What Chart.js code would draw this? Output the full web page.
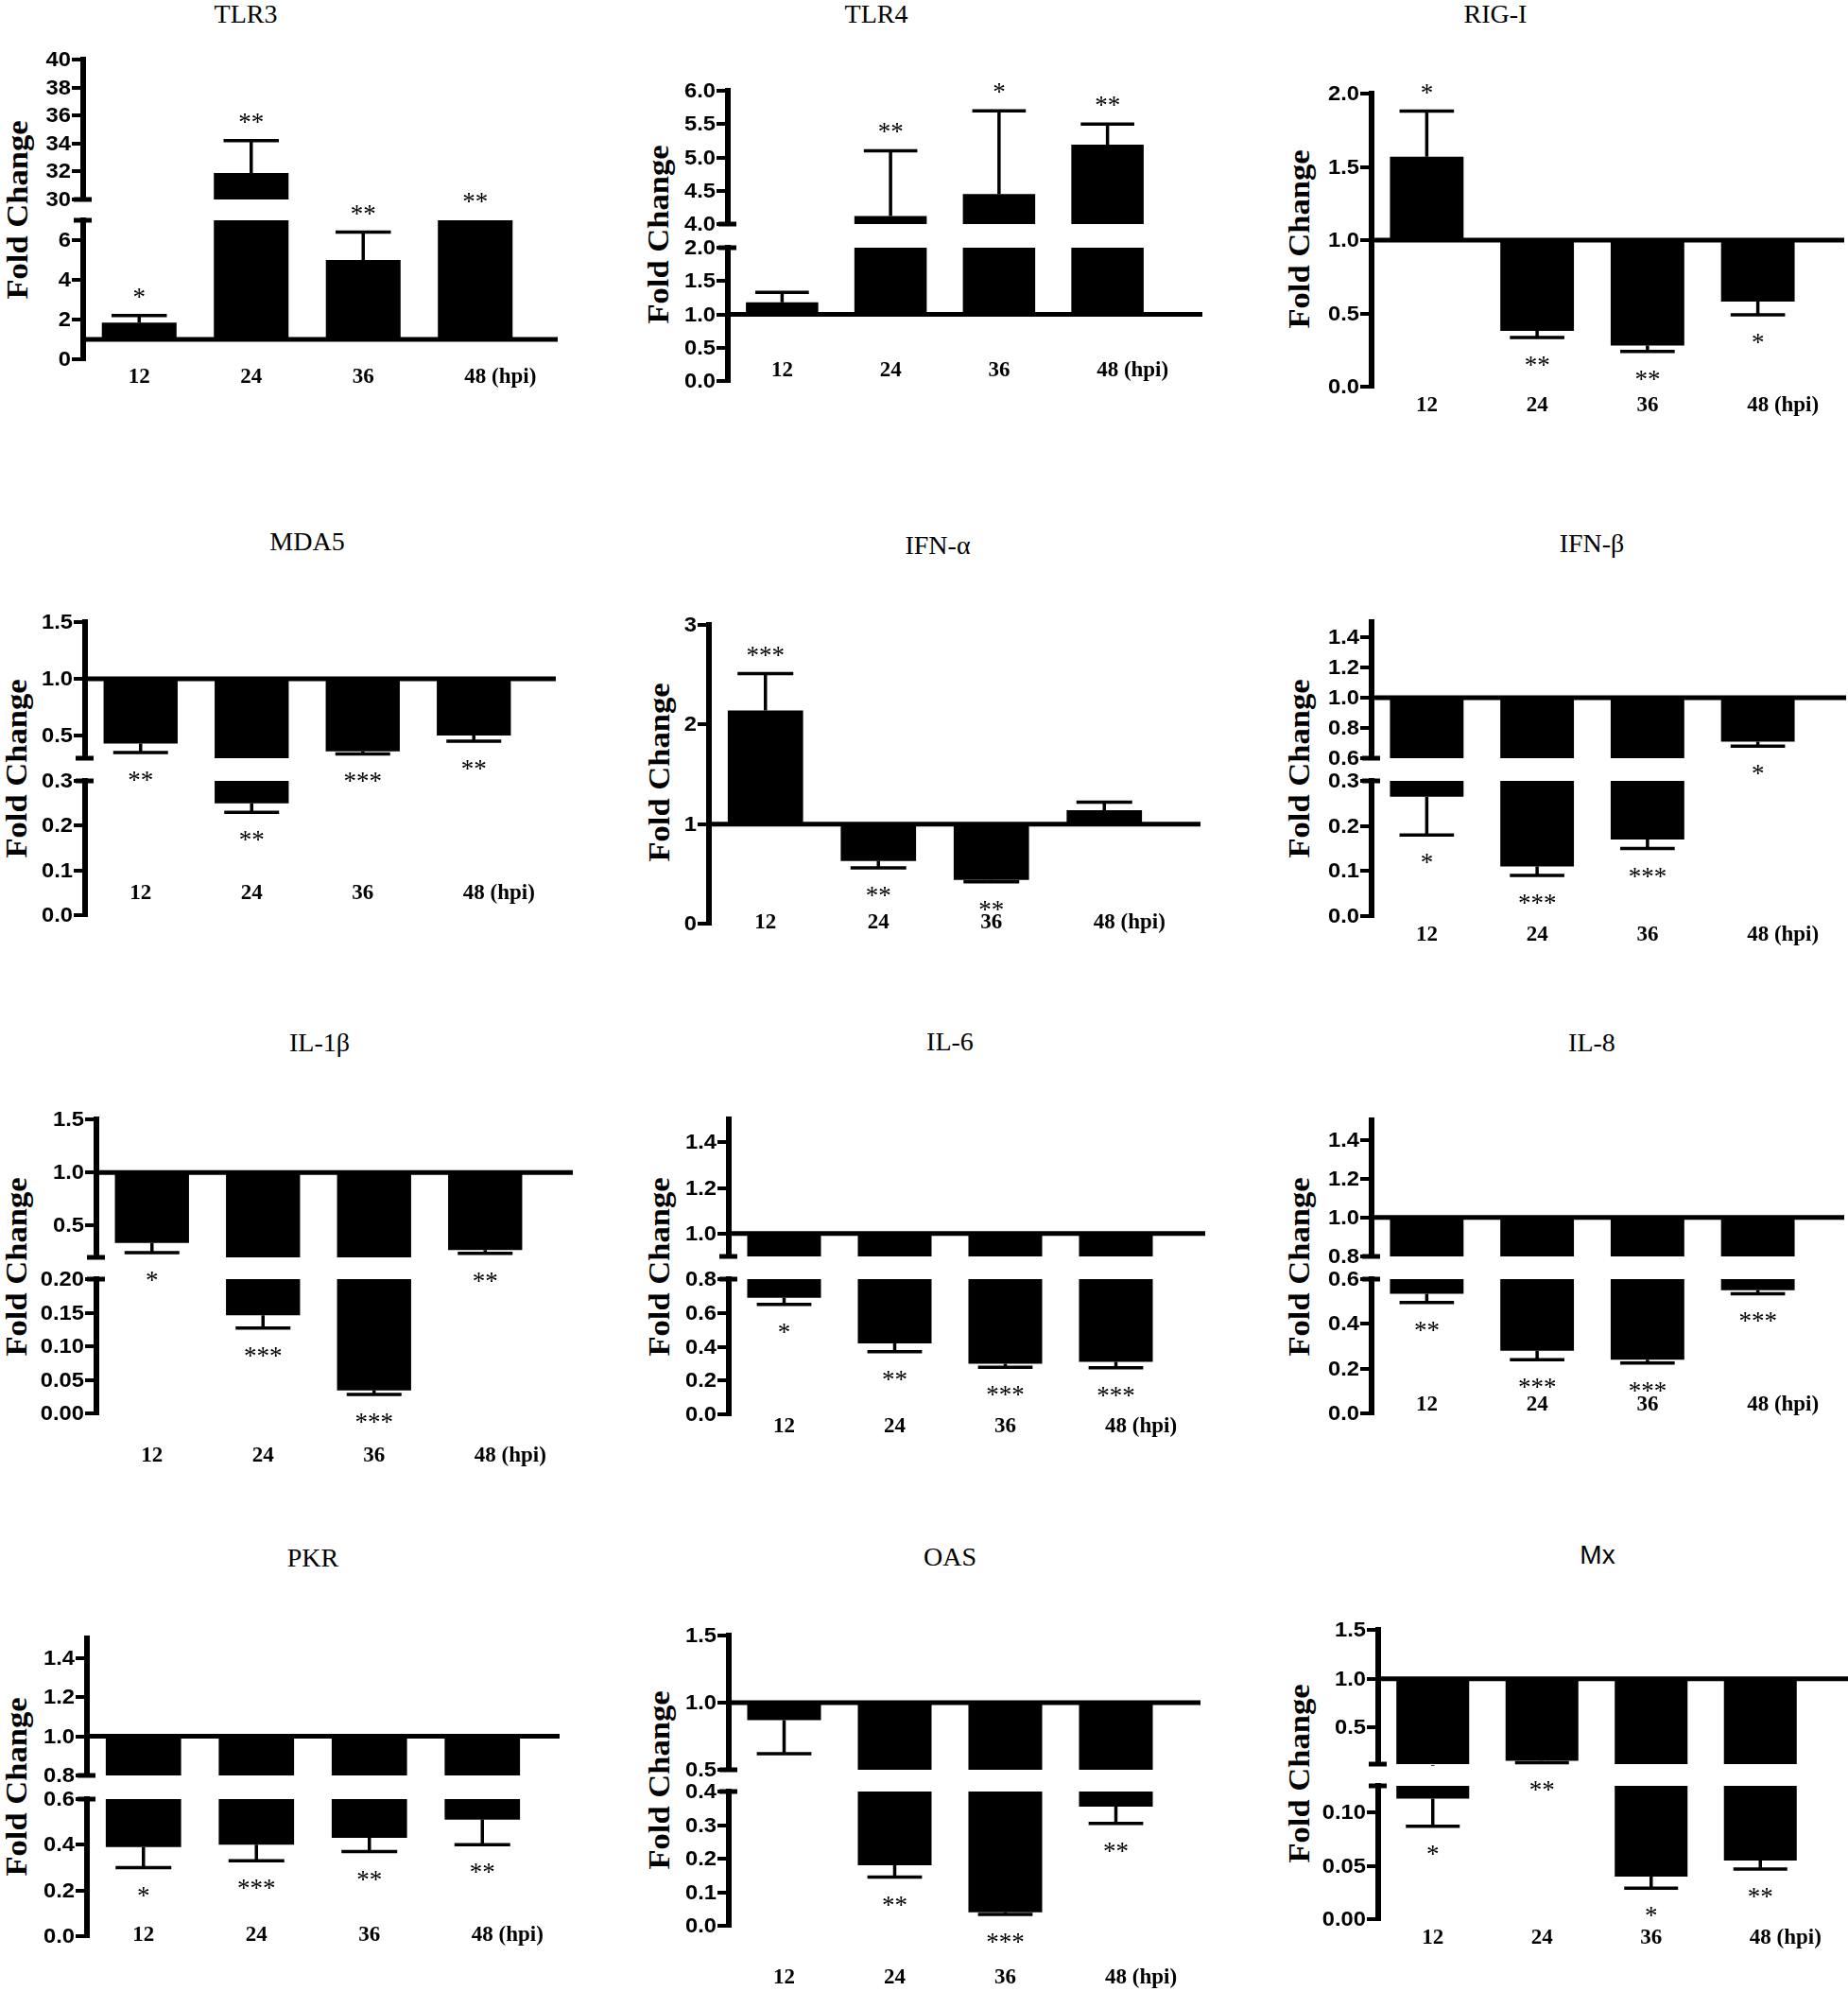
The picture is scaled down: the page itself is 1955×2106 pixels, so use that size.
<!DOCTYPE html>
<html>
<head>
<meta charset="utf-8">
<script src="https://cdn.jsdelivr.net/npm/chart.js@4/dist/chart.umd.min.js"></script>
<style>
  body { margin: 0; background: #fff; width: 1955px; height: 2106px; position: relative; overflow: hidden; }
  canvas { position: absolute; }
  .ttl { position: absolute; font: 28px 'Liberation Serif', serif; line-height: 1; transform: translate(-50%, -50%); white-space: nowrap; }
  .ttl.sans { font-family: 'Liberation Sans', Arial, sans-serif; }
  .ylab { position: absolute; font: bold 32px 'Liberation Serif', serif; line-height: 1; transform: translate(-50%, -50%) rotate(-90deg) scaleX(1.08); white-space: nowrap; }
</style>
</head>
<body>
<script>
'use strict';

const hours = ['12', '24', '36', '48 (hpi)'];

// TLR3 (48 h bar sits inside the axis break)
const tlr3Mean = [1.85, 31.9, 5.0, 15];
const tlr3Sem = [0.35, 2.3, 1.4, 0];
const tlr3Stars = ['*', '**', '**', '**'];
const tlr3TicksTop = ['30', '32', '34', '36', '38', '40'];
const tlr3TicksBottom = ['0', '2', '4', '6'];

// TLR4
const tlr4Mean = [1.18, 4.12, 4.45, 5.19];
const tlr4Sem = [0.15, 0.98, 1.25, 0.31];
const tlr4Stars = ['', '**', '*', '**'];
const tlr4TicksTop = ['4.0', '4.5', '5.0', '5.5', '6.0'];
const tlr4TicksBottom = ['0.0', '0.5', '1.0', '1.5', '2.0'];

// RIG-I
const rigMean = [1.57, 0.38, 0.28, 0.58];
const rigSem = [0.31, 0.045, 0.04, 0.09];
const rigStars = ['*', '**', '**', '*'];
const rigTicks = ['0.0', '0.5', '1.0', '1.5', '2.0'];

// MDA5
const mda5Mean = [0.43, 0.25, 0.36, 0.50];
const mda5Sem = [0.08, 0.02, 0.022, 0.05];
const mda5Stars = ['**', '**', '***', '**'];
const mda5TicksTop = ['0.5', '1.0', '1.5'];
const mda5TicksBottom = ['0.0', '0.1', '0.2', '0.3'];

// IFN-alpha
const ifnaMean = [2.14, 0.63, 0.44, 1.14];
const ifnaSem = [0.37, 0.07, 0.02, 0.08];
const ifnaStars = ['***', '**', '**', ''];
const ifnaTicks = ['0', '1', '2', '3'];

// IFN-beta
const ifnbMean = [0.265, 0.11, 0.17, 0.71];
const ifnbSem = [0.085, 0.02, 0.02, 0.03];
const ifnbStars = ['*', '***', '***', '*'];
const ifnbTicksTop = ['0.6', '0.8', '1.0', '1.2', '1.4'];
const ifnbTicksBottom = ['0.0', '0.1', '0.2', '0.3'];

// IL-1beta
const il1Mean = [0.335, 0.146, 0.034, 0.27];
const il1Sem = [0.09, 0.019, 0.006, 0.033];
const il1Stars = ['*', '***', '***', '**'];
const il1TicksTop = ['0.5', '1.0', '1.5'];
const il1TicksBottom = ['0.00', '0.05', '0.10', '0.15', '0.20'];

// IL-6
const il6Mean = [0.69, 0.42, 0.30, 0.31];
const il6Sem = [0.04, 0.05, 0.022, 0.035];
const il6Stars = ['*', '**', '***', '***'];
const il6TicksTop = ['1.0', '1.2', '1.4'];
const il6TicksBottom = ['0.0', '0.2', '0.4', '0.6', '0.8'];

// IL-8
const il8Mean = [0.535, 0.28, 0.24, 0.55];
const il8Sem = [0.04, 0.04, 0.015, 0.015];
const il8Stars = ['**', '***', '***', '***'];
const il8TicksTop = ['0.8', '1.0', '1.2', '1.4'];
const il8TicksBottom = ['0.0', '0.2', '0.4', '0.6'];

// PKR
const pkrMean = [0.39, 0.40, 0.43, 0.51];
const pkrSem = [0.09, 0.07, 0.06, 0.11];
const pkrStars = ['*', '***', '**', '**'];
const pkrTicksTop = ['0.8', '1.0', '1.2', '1.4'];
const pkrTicksBottom = ['0.0', '0.2', '0.4', '0.6'];

// OAS
const oasMean = [0.87, 0.18, 0.04, 0.355];
const oasSem = [0.25, 0.035, 0.006, 0.05];
const oasStars = ['', '**', '***', '**'];
const oasTicksTop = ['0.5', '1.0', '1.5'];
const oasTicksBottom = ['0.0', '0.1', '0.2', '0.3', '0.4'];

// Mx
const mxMean = [0.113, 0.16, 0.04, 0.055];
const mxSem = [0.026, 0.02, 0.011, 0.008];
const mxStars = ['*', '**', '*', '**'];
const mxTicksTop = ['0.5', '1.0', '1.5'];
const mxTicksBottom = ['0.00', '0.05', '0.10'];

// panel layout (page pixels) + axis segments for the broken axes
let panels = [
  { title: 'TLR3', mean: tlr3Mean, sem: tlr3Sem, stars: tlr3Stars, axisX: 88, areaRight: 562, lineRight: 590, labelDy: 17,
    titleAt: [260, 15], yLabelAt: [18, 222],
    segs: [{ min: 30, max: 40, ticks: tlr3TicksTop, top: 63, bottom: 211 }, { min: 0, max: 7, ticks: tlr3TicksBottom, top: 233, bottom: 380 }] },
  { title: 'TLR4', mean: tlr4Mean, sem: tlr4Sem, stars: tlr4Stars, axisX: 770, areaRight: 1229, lineRight: 1272, labelDy: -13,
    titleAt: [927, 15], yLabelAt: [696, 248],
    segs: [{ min: 4, max: 6, ticks: tlr4TicksTop, top: 96, bottom: 237 }, { min: 0, max: 2, ticks: tlr4TicksBottom, top: 262, bottom: 403 }] },
  { title: 'RIG-I', mean: rigMean, sem: rigSem, stars: rigStars, axisX: 1451, areaRight: 1918, lineRight: 1951, labelDy: 18,
    titleAt: [1582, 15], yLabelAt: [1374, 253],
    segs: [{ min: 0, max: 2, ticks: rigTicks, top: 99, bottom: 409 }] },
  { title: 'MDA5', mean: mda5Mean, sem: mda5Sem, stars: mda5Stars, axisX: 90, areaRight: 560, lineRight: 588, labelDy: -25,
    titleAt: [325, 573], yLabelAt: [17, 813],
    segs: [{ min: 0.3, max: 1.5, ticks: mda5TicksTop, top: 658, bottom: 802 }, { min: 0, max: 0.3, ticks: mda5TicksBottom, top: 826, bottom: 968 }] },
  { title: 'IFN-α', mean: ifnaMean, sem: ifnaSem, stars: ifnaStars, axisX: 750, areaRight: 1228, lineRight: 1270, labelDy: -3,
    titleAt: [992, 577], yLabelAt: [697, 817],
    segs: [{ min: 0, max: 3, ticks: ifnaTicks, top: 661, bottom: 977 }] },
  { title: 'IFN-β', mean: ifnbMean, sem: ifnbSem, stars: ifnbStars, axisX: 1451, areaRight: 1918, lineRight: 1953, labelDy: 18,
    titleAt: [1684, 575], yLabelAt: [1374, 813],
    segs: [{ min: 0.6, max: 1.5, ticks: ifnbTicksTop, top: 658, bottom: 802 }, { min: 0, max: 0.3, ticks: ifnbTicksBottom, top: 826, bottom: 969 }] },
  { title: 'IL-1β', mean: il1Mean, sem: il1Sem, stars: il1Stars, axisX: 102, areaRight: 572, lineRight: 606, labelDy: 43,
    titleAt: [338, 1103], yLabelAt: [17, 1340],
    segs: [{ min: 0.2, max: 1.5, ticks: il1TicksTop, top: 1184, bottom: 1330 }, { min: 0, max: 0.2, ticks: il1TicksBottom, top: 1353, bottom: 1495 }] },
  { title: 'IL-6', mean: il6Mean, sem: il6Sem, stars: il6Stars, axisX: 771, areaRight: 1239, lineRight: 1275, labelDy: 11,
    titleAt: [1005, 1102], yLabelAt: [697, 1340],
    segs: [{ min: 0.9, max: 1.5, ticks: il6TicksTop, top: 1184, bottom: 1329 }, { min: 0, max: 0.8, ticks: il6TicksBottom, top: 1353, bottom: 1496 }] },
  { title: 'IL-8', mean: il8Mean, sem: il8Sem, stars: il8Stars, axisX: 1451, areaRight: 1918, lineRight: 1951, labelDy: -11,
    titleAt: [1684, 1103], yLabelAt: [1374, 1340],
    segs: [{ min: 0.8, max: 1.5, ticks: il8TicksTop, top: 1185, bottom: 1329 }, { min: 0, max: 0.6, ticks: il8TicksBottom, top: 1353, bottom: 1495 }] },
  { title: 'PKR', mean: pkrMean, sem: pkrSem, stars: pkrStars, axisX: 92, areaRight: 570, lineRight: 592, labelDy: -3,
    titleAt: [331, 1648], yLabelAt: [17, 1890],
    segs: [{ min: 0.8, max: 1.5, ticks: pkrTicksTop, top: 1733, bottom: 1878 }, { min: 0, max: 0.6, ticks: pkrTicksBottom, top: 1903, bottom: 2048 }] },
  { title: 'OAS', mean: oasMean, sem: oasSem, stars: oasStars, axisX: 771, areaRight: 1239, lineRight: 1270, labelDy: 53,
    titleAt: [1005, 1647], yLabelAt: [697, 1883],
    segs: [{ min: 0.5, max: 1.5, ticks: oasTicksTop, top: 1730, bottom: 1872 }, { min: 0, max: 0.4, ticks: oasTicksBottom, top: 1895, bottom: 2037 }] },
  { title: 'Mx', sans: true, mean: mxMean, sem: mxSem, stars: mxStars, axisX: 1458, areaRight: 1920, lineRight: 1955, labelDy: 18,
    titleAt: [1690, 1645], yLabelAt: [1374, 1876],
    segs: [{ min: 0.125, max: 1.5, ticks: mxTicksTop, top: 1724, bottom: 1866 }, { min: 0, max: 0.125, ticks: mxTicksBottom, top: 1889, bottom: 2030 }] }
];

const AXIS_W = 75;
const PAD_T = 45;
const PAD_B = 75;
const segInfo = new WeakMap();

// which axis segment carries the significance stars of each bar
function placeStars(p) {
  p.starSeg = [];
  p.starVal = [];
  p.mean.forEach((m, i) => {
    const up = m >= 1;
    let v = up ? m + p.sem[i] : m - p.sem[i];
    let k = p.segs.findIndex(s => v >= s.min && v <= s.max);
    if (k < 0) {
      p.segs.forEach((s, j) => {
        if (up && s.min < v && (k < 0 || s.min > p.segs[k].min)) k = j;
        if (!up && s.max > v && (k < 0 || s.max < p.segs[k].max)) k = j;
      });
      v = up ? Math.min(v, p.segs[k].max) : Math.max(v, p.segs[k].min);
    }
    p.starSeg.push(k);
    p.starVal.push(v);
  });
}

function stretchedText(ctx, text, x, y, sx) {
  ctx.save();
  ctx.translate(x, y);
  ctx.scale(sx, 1);
  ctx.fillText(text, 0, 0);
  ctx.restore();
}

const marksPlugin = {
  id: 'marks',
  afterDatasetsDraw(chart) {
    const info = segInfo.get(chart.canvas);
    if (!info) return;
    const p = info.p, k = info.k, seg = p.segs[k];
    const ctx = chart.ctx;
    const a = chart.chartArea;
    const xs = chart.scales.x, ys = chart.scales.y;
    const bw = chart.getDatasetMeta(0).data[0].width;

    // error bars
    ctx.save();
    ctx.beginPath();
    ctx.rect(a.left, a.top - 2, a.right - a.left, a.bottom - a.top + 4);
    ctx.clip();
    ctx.strokeStyle = '#000';
    ctx.lineWidth = 3.5;
    p.mean.forEach((m, i) => {
      if (!p.sem[i]) return;
      const cx = xs.getPixelForValue(i);
      const end = m >= 1 ? m + p.sem[i] : m - p.sem[i];
      const y0 = ys.getPixelForValue(m);
      const y1 = ys.getPixelForValue(end);
      ctx.beginPath();
      ctx.moveTo(cx, y0);
      ctx.lineTo(cx, y1);
      ctx.moveTo(cx - bw * 0.37, y1);
      ctx.lineTo(cx + bw * 0.37, y1);
      ctx.stroke();
    });
    ctx.restore();

    ctx.save();
    ctx.strokeStyle = '#000';
    ctx.fillStyle = '#000';
    // baseline at fold change 1
    if (seg.min <= 1 && seg.max >= 1) {
      const yb = ys.getPixelForValue(1);
      ctx.lineWidth = 5;
      ctx.beginPath();
      ctx.moveTo(a.left, yb);
      ctx.lineTo(a.right + (p.lineRight - p.areaRight), yb);
      ctx.stroke();
    }
    // break stubs on the axis
    ctx.lineWidth = 5;
    if (k < p.segs.length - 1) {
      ctx.beginPath();
      ctx.moveTo(a.left - 10, a.bottom);
      ctx.lineTo(a.left + 9, a.bottom);
      ctx.stroke();
    }
    if (k > 0) {
      ctx.beginPath();
      ctx.moveTo(a.left - 10, a.top);
      ctx.lineTo(a.left + 9, a.top);
      ctx.stroke();
    }
    // y tick labels at the scale's tick positions
    ctx.font = "bold 22px 'Liberation Sans', Arial, sans-serif";
    ctx.textAlign = 'right';
    ctx.textBaseline = 'middle';
    seg.ticks.forEach(t => {
      stretchedText(ctx, t, a.left - 13, ys.getPixelForValue(Number(t)) + 1, 1.08);
    });
    // stars
    ctx.font = "27px 'Liberation Serif', serif";
    ctx.textAlign = 'center';
    ctx.textBaseline = 'alphabetic';
    p.stars.forEach((s, i) => {
      if (!s || p.starSeg[i] !== k) return;
      const cx = xs.getPixelForValue(i);
      const yv = ys.getPixelForValue(p.starVal[i]);
      ctx.fillText(s, cx, p.mean[i] >= 1 ? yv - 11 : yv + 38);
    });
    // time labels under the last segment
    if (k === p.segs.length - 1) {
      ctx.font = "bold 23px 'Liberation Serif', serif";
      ctx.textAlign = 'left';
      hours.forEach((lab, i) => {
        const cx = xs.getPixelForValue(i);
        const w0 = ctx.measureText(lab.split(' ')[0]).width;
        ctx.fillText(lab, cx - w0 / 2, a.bottom + p.labelDy + 8);
      });
    }
    ctx.restore();
  }
};

function addText(cls, text, at) {
  const d = document.createElement('div');
  d.className = cls;
  d.textContent = text;
  d.style.left = at[0] + 'px';
  d.style.top = at[1] + 'px';
  document.body.appendChild(d);
}

function drawPanel(p) {
  placeStars(p);
  addText(p.sans ? 'ttl sans' : 'ttl', p.title, p.titleAt);
  addText('ylab', 'Fold Change', p.yLabelAt);

  p.segs.forEach((seg, k) => {
    const cv = document.createElement('canvas');
    const padR = p.lineRight - p.areaRight + 10;
    cv.width = AXIS_W + (p.areaRight - p.axisX) + padR;
    cv.height = (seg.bottom - seg.top) + PAD_T + PAD_B;
    cv.style.left = (p.axisX - AXIS_W) + 'px';
    cv.style.top = (seg.top - PAD_T) + 'px';
    document.body.appendChild(cv);
    segInfo.set(cv, { p: p, k: k });
    const tickVals = seg.ticks.map(Number);

    const chart = new Chart(cv, {
      type: 'bar',
      data: {
        labels: hours,
        datasets: [{
          data: p.mean.map(m => [1, m]),
          backgroundColor: '#000',
          borderWidth: 0,
          barPercentage: 0.667,
          categoryPercentage: 1,
          clip: 0
        }]
      },
      options: {
        responsive: false,
        animation: false,
        events: [],
        layout: { padding: { top: PAD_T, bottom: PAD_B, left: 0, right: padR } },
        plugins: { legend: { display: false }, tooltip: { enabled: false } },
        scales: {
          x: { display: false },
          y: {
            min: seg.min,
            max: seg.max,
            afterBuildTicks: s => { s.ticks = tickVals.map(v => ({ value: v })); },
            afterFit: s => { s.width = AXIS_W; },
            ticks: { display: false, autoSkip: false },
            grid: { drawOnChartArea: false, tickLength: 12, lineWidth: 4, color: '#000' },
            border: { width: 6, color: '#000' }
          }
        }
      },
      plugins: [marksPlugin]
    });
    // line the plot area up with the measured segment position
    const a = chart.chartArea;
    cv.style.left = (p.axisX - a.left) + 'px';
    cv.style.top = (seg.top - a.top) + 'px';
  });
}

panels.forEach(drawPanel);
</script>
</body>
</html>
